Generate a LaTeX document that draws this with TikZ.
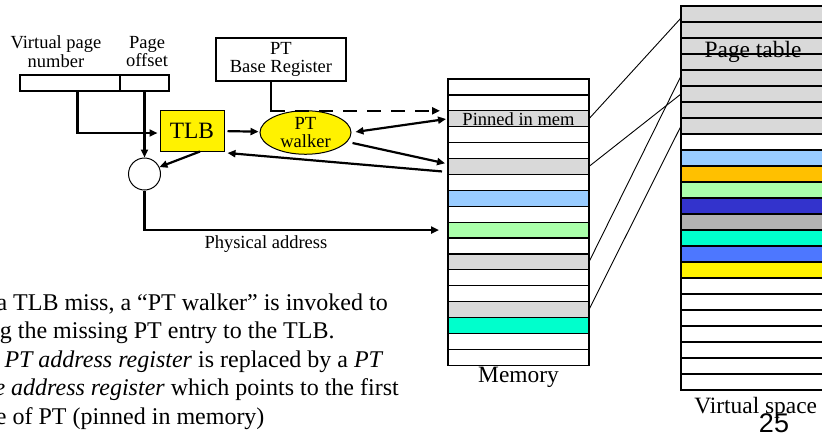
\documentclass[tikz,border=0pt]{standalone}
\usepackage{fontspec}
\setmainfont{Liberation Serif}
\newfontfamily\pagenumfont{Liberation Sans}
\usepackage{xcolor}
\usetikzlibrary{arrows.meta, positioning, shapes.geometric}
\definecolor{pgray}{RGB}{217,217,217}
\definecolor{lblue}{RGB}{153,204,255}
\definecolor{lgreen}{RGB}{170,255,170}
\definecolor{teal}{RGB}{0,255,204}
\definecolor{orange}{RGB}{255,192,0}
\definecolor{dblue}{RGB}{51,51,204}
\definecolor{mgray}{RGB}{178,178,178}
\definecolor{rblue}{RGB}{77,119,255}
\begin{document}
\begin{tikzpicture}[x=1pt, y=-1pt,
    smalltext/.style={font=\fontsize{18.5}{18.5}\selectfont, inner sep=0pt},
    bigtext/.style={font=\fontsize{23.4}{28.5}\selectfont, inner sep=0pt},
    parafont/.style={font=\fontsize{24}{28.5}\selectfont, inner sep=0pt},
    memrow/.style={draw, line width=1.2pt, minimum width=141pt, minimum height=15.9pt, inner sep=0pt, outer sep=0pt},
    vrow/.style={memrow, minimum width=141.5pt, minimum height=16pt},
    field/.style={draw, line width=1.1pt, minimum height=16pt, inner sep=0pt, outer sep=0pt},
    conn/.style={line width=2.2pt, -{Triangle[length=8pt,width=7pt]}},
    mapline/.style={line width=0.9pt}]
  \useasboundingbox (0,0) rectangle (822,437);
  \clip (0,0) rectangle (822,437);

  % Virtual address
  \node[field, minimum width=100pt] (vpn) at (70,83) {};
  \node[field, minimum width=49pt] (ofs) at (144.5,83) {};
  \node[smalltext, align=center, anchor=north] (vpnlbl) at (56,35.5) {Virtual page\\number};
  \node[smalltext, align=center, anchor=north] (ofslbl) at (147,36) {Page\\offset};

  % Translation hardware
  \node[draw, line width=1.3pt, smalltext, align=center, minimum width=130pt, minimum height=43pt] (ptbr) at (281,59.5) {PT\\Base Register};
  \node[draw, line width=1pt, fill=yellow, bigtext, minimum width=64pt, minimum height=41pt] (tlb) at (192,130.5) {TLB};
  \node[ellipse, draw, line width=1pt, fill=yellow, smalltext, align=center, minimum width=91pt, minimum height=39pt] (walker) at (305.5,132.5) {PT\\walker};
  \node[circle, draw, line width=1pt, minimum size=32pt, inner sep=0pt] (join) at (144.5,174) {};

  % Memory
  \foreach \c [count=\i] in {white,white,pgray,white,white,pgray,white,lblue,white,lgreen,white,pgray,white,white,pgray,teal,white,white}
    \node[memrow, fill=\c] (m\i) at (518.5,{79+15.9*(\i-0.5)}) {};
  \node[smalltext] (pinned) at (m3) {Pinned in mem};
  \node[bigtext, below=1.5pt of m18] (memlbl) {Memory};

  % Virtual space
  \foreach \c [count=\i] in {pgray,pgray,pgray,pgray,pgray,pgray,pgray,pgray,white,lblue,orange,lgreen,dblue,mgray,teal,rblue,yellow,white,white,white,white,white,white,white}
    \node[vrow, fill=\c] (v\i) at (751.75,{6+16*(\i-0.5)}) {};
  \node[bigtext, anchor=base] (pttitle) at (753,57) {Page table};
  \node[bigtext, below=7pt of v24, xshift=4pt] (vslbl) {Virtual space};
  \node[font=\pagenumfont\fontsize{27}{27}\selectfont, inner sep=0pt] (pagenum) at (774,423.5) {25};

  % PT pages in memory
  \draw[mapline] (m3.east) -- ([yshift=-4pt]v1.west);
  \draw[mapline] (m6.east) -- (v6.west);
  \draw[mapline] (m12.east) -- ([yshift=2pt]v5.west);
  \draw[mapline] (m15.east) -- (v8.west);

  % Connectors
  \draw[conn, shorten >=2pt] ([xshift=7.5pt]vpn.south) |- ([yshift=-2.5pt]tlb.west);
  \draw[conn] (ofs.south) -- (join.north);
  \draw[conn] ([xshift=8pt]tlb.south) -- (join.25);
  \draw[conn, shorten <=3pt, shorten >=1pt] (tlb) -- (walker);
  \coordinate (brk) at ([xshift=-10pt]ptbr.south |- m3.north);
  \draw[line width=2.2pt] ([xshift=-10pt]ptbr.south) -- ([yshift=-1.1pt]brk);
  \draw[conn, dash pattern=on 14pt off 10pt, shorten >=8pt] (brk) -- (brk -| m3.west);
  \draw[line width=2.2pt, {Triangle[length=8pt,width=7pt]}-{Triangle[length=8pt,width=7pt]}, shorten <=4pt, shorten >=2pt] (walker.east) -- (m3.west);
  \draw[conn, shorten >=3pt] ([shift={(1pt,-10.5pt)}]walker.east) -- ([yshift=2.5pt]m6.west);
  \draw[conn] ([shift={(-6pt,-5pt)}]m6.west) -- ([shift={(3pt,-1.5pt)}]tlb.south east);
  \draw[conn, shorten >=9pt] (join.south) |- node[smalltext, pos=0.7, below=5pt] (physlbl) {Physical address} (m10.west);

  % Notes
  \node[parafont, align=left, anchor=north west] (note) at (-39,293.6) {On a TLB miss, a “PT walker” is invoked to\\bring the missing PT entry to the TLB.\\The \textit{PT address register} is replaced by a \textit{PT}\\\textit{base address register} which points to the first\\page of PT (pinned in memory)};
\end{tikzpicture}
\end{document}
